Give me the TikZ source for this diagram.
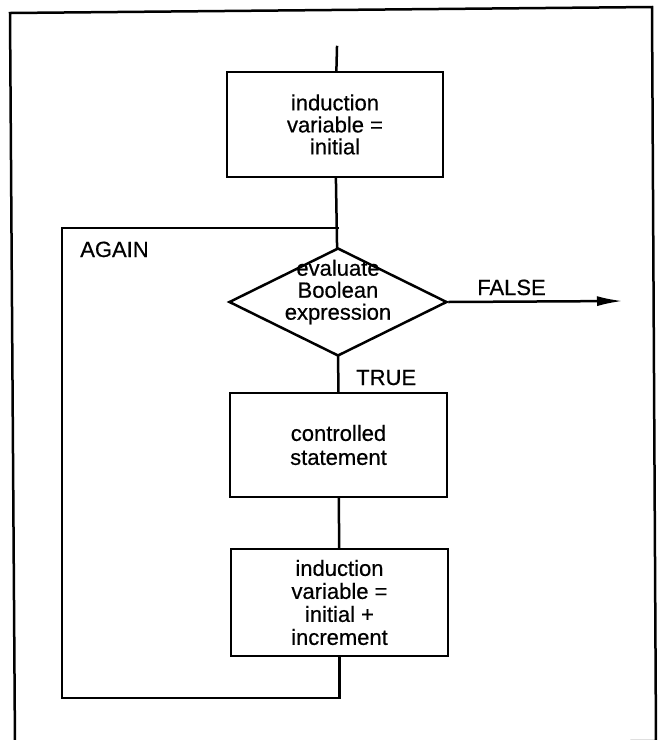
\documentclass[tikz,border=0pt]{standalone}
\usepackage{fontspec}
\setmainfont[FakeBold=0.5]{Liberation Sans}
\usetikzlibrary{shapes.geometric,arrows.meta}

\begin{document}
\begin{tikzpicture}
		[x=1pt,y=-1pt,line width=2.5pt,
		every node/.style={font=\fontsize{22}{23}\selectfont,align=center},
		stepbox/.style={draw,rectangle,minimum width=216pt,minimum height=105pt},
		decision/.style={draw,diamond,aspect=2,inner sep=0pt,minimum width=218pt,minimum height=108pt},
		edge/.style={line cap=rect},
		arrow/.style={-{Latex[length=26pt,width=10pt]}}]
		\useasboundingbox (0,0) rectangle (657,740);
		\draw[line join=miter] (10,13) -- (652,7) -- (656,741) -- (15,747) -- cycle;
		
		\coordinate (start) at (337,47);
		\node[stepbox,font=\fontsize{22}{22}\selectfont] (init) at (335,124.5) {induction\\variable =\\initial};
		\node[decision] (test) at (338,302) {};
		\node[font=\fontsize{22}{22}\selectfont] (testtxt) at (338,292) {evaluate\\Boolean\\expression};
		\node[stepbox,minimum width=217pt,minimum height=104pt,font=\fontsize{22}{24}\selectfont] (body) at (338.5,445) {controlled\\statement};
		\node[stepbox,minimum width=217pt,minimum height=107pt] (incr) at (339.5,602.5) {induction\\variable =\\initial +\\increment};
		\coordinate (back) at (62,698);
		\coordinate (join) at (338,228);
		\coordinate (out) at (623,301);
		
		\node[anchor=base west,inner sep=0pt] (again) at (79,257) {AGAIN};
		\node[anchor=base west,inner sep=0pt] (true) at (355,385) {TRUE};
		\node[anchor=base west,inner sep=0pt] (false) at (476,295) {FALSE};
		
		\foreach \from/\to in {start/init,init/test,test/body,body/incr}
		\draw[edge] (\from) -- (\to);
		\draw[edge] (incr.south) |- (back) |- (join);
		\draw[arrow] (test.east) -- (out);
\end{tikzpicture}
\end{document}
